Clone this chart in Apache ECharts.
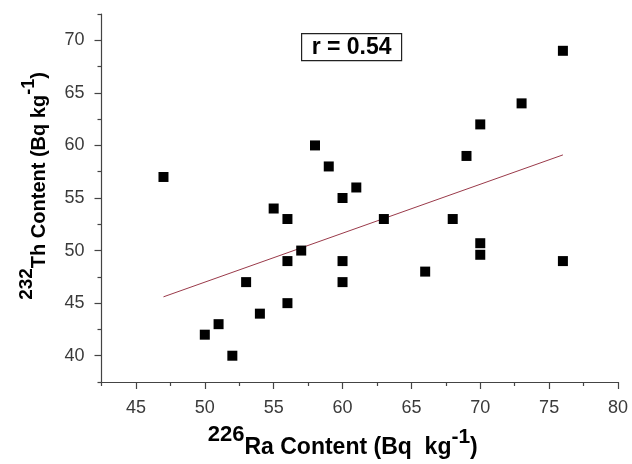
<!DOCTYPE html>
<html><head><meta charset="utf-8">
<script src="https://cdn.jsdelivr.net/npm/echarts@6/dist/echarts.min.js"></script>
<style>html,body{margin:0;padding:0;background:#fff}#c{width:632px;height:464px}</style>
</head><body><div id="c"></div>
<script>
const raContent = [47,50,51,52,53,54,55,56,56,56,57,58,59,60,60,60,61,63,66,68,69,70,70,70,73,76,76];
const thContent = [57,42,43,40,47,44,54,53,49,45,50,60,58,55,49,47,56,53,48,53,59,62,50.7,49.6,64,69,49];
const fitX = [47, 76];
const fitY = [45.6, 59.1];
const xMajorTicks = [45,50,55,60,65,70,75,80];
const xMinorTicks = [42.5,47.5,52.5,57.5,62.5,67.5,72.5,77.5];
const yMajorTicks = [40,45,50,55,60,65,70];
const yMinorTicks = [37.5,42.5,47.5,52.5,57.5,62.5,67.5,72.5];
const rLabel = 'r = 0.54';

const FONT = 'Arial, "Liberation Sans", sans-serif';
const axisColor = '#444';
const labelColor = '#3a3a3a';

const chart = echarts.init(document.getElementById('c'), null, {renderer: 'canvas'});

const titleRich = (size) => ({
  main: {fontSize: size, fontWeight: 'bold', fontFamily: FONT, color: '#000', verticalAlign: 'bottom'},
  sup: {fontSize: size - 1, fontWeight: 'bold', fontFamily: FONT, color: '#000', verticalAlign: 'bottom', padding: [0, 0, 13, 0]},
  sup2: {fontSize: size - 2, fontWeight: 'bold', fontFamily: FONT, color: '#000', verticalAlign: 'bottom', padding: [0, 0, 11, 0]}
});

const xRange = {min: 42.5, max: 80};
const yRange = {min: 37.5, max: 72.5};

chart.setOption({
  animation: false,
  backgroundColor: '#fff',
  grid: {left: 101.5, right: 14, top: 14, bottom: 78},
  xAxis: [
    {
      type: 'value', min: xRange.min, max: xRange.max, position: 'bottom',
      splitLine: {show: false},
      axisLine: {show: true, lineStyle: {color: axisColor, width: 1.2}},
      axisTick: {show: true, inside: false, length: 7, customValues: xMajorTicks, lineStyle: {color: axisColor, width: 1.2}},
      axisLabel: {show: true, customValues: xMajorTicks, margin: 17, fontSize: 18, fontFamily: FONT, color: labelColor},
      name: '{sup|226}{main|Ra Content (Bq  kg}{sup2|-1}{main|)}',
      nameLocation: 'middle', nameGap: 42,
      nameTextStyle: {rich: titleRich(23), padding: [0, 34, 0, 0]}
    },
    {
      type: 'value', min: xRange.min, max: xRange.max, position: 'bottom',
      splitLine: {show: false},
      axisLine: {show: false},
      axisTick: {show: true, inside: false, length: 4, customValues: xMinorTicks, lineStyle: {color: axisColor, width: 1.2}},
      axisLabel: {show: false}
    }
  ],
  yAxis: [
    {
      type: 'value', min: yRange.min, max: yRange.max, position: 'left',
      splitLine: {show: false},
      axisLine: {show: true, lineStyle: {color: axisColor, width: 1.2}},
      axisTick: {show: true, inside: false, length: 7, customValues: yMajorTicks, lineStyle: {color: axisColor, width: 1.2}},
      axisLabel: {show: true, customValues: yMajorTicks, margin: 17, fontSize: 18, fontFamily: FONT, color: labelColor},
      name: '{sup|232}{main|Th Content (Bq kg}{sup2|-1}{main|)}',
      nameLocation: 'middle', nameGap: 52, nameRotate: 90,
      nameTextStyle: {rich: titleRich(20), padding: [0, 0, 0, 24]}
    },
    {
      type: 'value', min: yRange.min, max: yRange.max, position: 'left',
      splitLine: {show: false},
      axisLine: {show: false},
      axisTick: {show: true, inside: false, length: 4, customValues: yMinorTicks, lineStyle: {color: axisColor, width: 1.2}},
      axisLabel: {show: false}
    }
  ],
  series: [
    {
      type: 'line', xAxisIndex: 0, yAxisIndex: 0,
      data: fitX.map((x, i) => [x, fitY[i]]),
      symbol: 'none', lineStyle: {color: '#9a3a4a', width: 1}, z: 2
    },
    {
      type: 'scatter', xAxisIndex: 0, yAxisIndex: 0,
      data: raContent.map((x, i) => [x, thContent[i]]),
      symbol: 'rect', symbolSize: 10, itemStyle: {color: '#000', opacity: 1}, z: 3
    }
  ],
  graphic: [
    {
      type: 'group', left: 301, top: 33,
      children: [
        {type: 'rect', shape: {x: 0, y: 0, width: 100, height: 27}, style: {fill: '#fff', stroke: '#222', lineWidth: 1.2}},
        {type: 'text', x: 50, y: 14, style: {text: rLabel, font: 'bold 23px ' + FONT, fill: '#000', align: 'center', verticalAlign: 'middle'}}
      ]
    }
  ]
});
</script>
</body></html>
